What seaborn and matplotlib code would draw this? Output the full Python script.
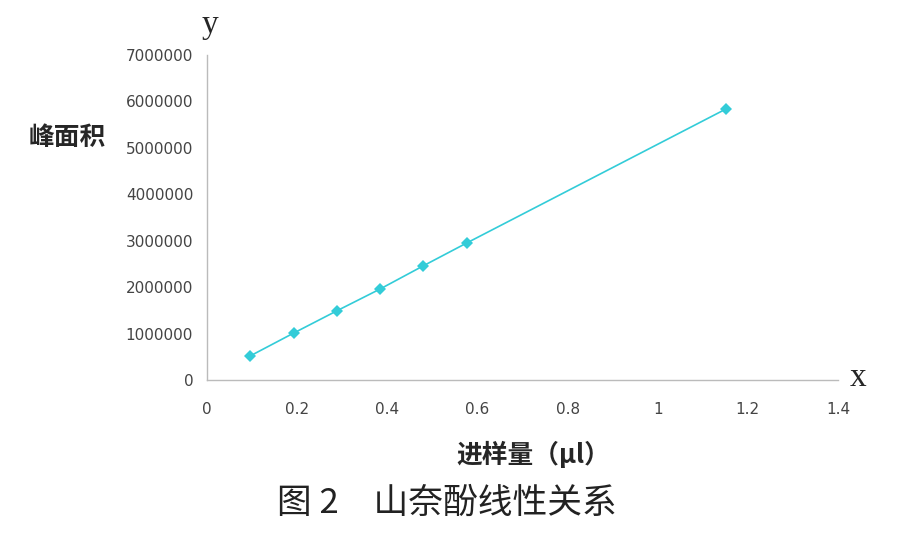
import numpy as np
import pandas as pd
import matplotlib
matplotlib.use("Agg")
import matplotlib.pyplot as plt
import seaborn as sns

# data
injection_ul = [0.096, 0.192, 0.288, 0.384, 0.48, 0.576, 1.152]
peak_area = [520000, 1010000, 1490000, 1960000, 2460000, 2950000, 5840000]

x_ticks = [0, 0.2, 0.4, 0.6, 0.8, 1.0, 1.2, 1.4]
x_tick_labels = ["0", "0.2", "0.4", "0.6", "0.8", "1", "1.2", "1.4"]
y_ticks = [0, 1000000, 2000000, 3000000, 4000000, 5000000, 6000000, 7000000]
y_tick_labels = [str(v) for v in y_ticks]

df = pd.DataFrame({"x": injection_ul, "y": peak_area})

sns.set_style("white")
plt.rcParams['font.family'] = ['Noto Sans CJK SC', 'DejaVu Sans']

fig = plt.figure(figsize=(8.97, 5.36), dpi=100)
ax = fig.add_axes([0.2308, 0.291, 0.7034, 0.6064])

sns.lineplot(data=df, x="x", y="y", ax=ax, color="#33CCD8", marker="D",
             markersize=6, markeredgewidth=0, linewidth=1.2)

ax.set_xlim(0, 1.4)
ax.set_ylim(0, 7000000)
ax.set_xticks(x_ticks)
ax.set_xticklabels(x_tick_labels, family="DejaVu Sans", fontsize=11, color="#444444")
ax.set_yticks(y_ticks)
ax.set_yticklabels(y_tick_labels, family="DejaVu Sans", fontsize=11, color="#444444")
ax.tick_params(axis="both", length=0)
ax.tick_params(axis="x", pad=16)
ax.tick_params(axis="y", pad=10)
ax.set_xlabel("")
ax.set_ylabel("")

sns.despine(ax=ax)
for side in ["left", "bottom"]:
    ax.spines[side].set_color("#BBBBBB")
    ax.spines[side].set_linewidth(1.0)

# axis names and captions
fig.text(0.0747, 0.744, "峰面积", fontsize=18.5, fontweight="bold", ha="center", va="center")
fig.text(0.595, 0.151, "进样量（μl）", fontsize=18.5, fontweight="bold", ha="center", va="center")
fig.text(0.498, 0.0616, "图 2　山奈酚线性关系", fontsize=25, ha="center", va="center", color="#222222")
fig.text(0.234, 0.953, "y", family="Liberation Serif", fontsize=24, ha="center", va="center")
fig.text(0.957, 0.295, "x", family="Liberation Serif", fontsize=24, ha="center", va="center")

fig.savefig("out.png", dpi=100)
